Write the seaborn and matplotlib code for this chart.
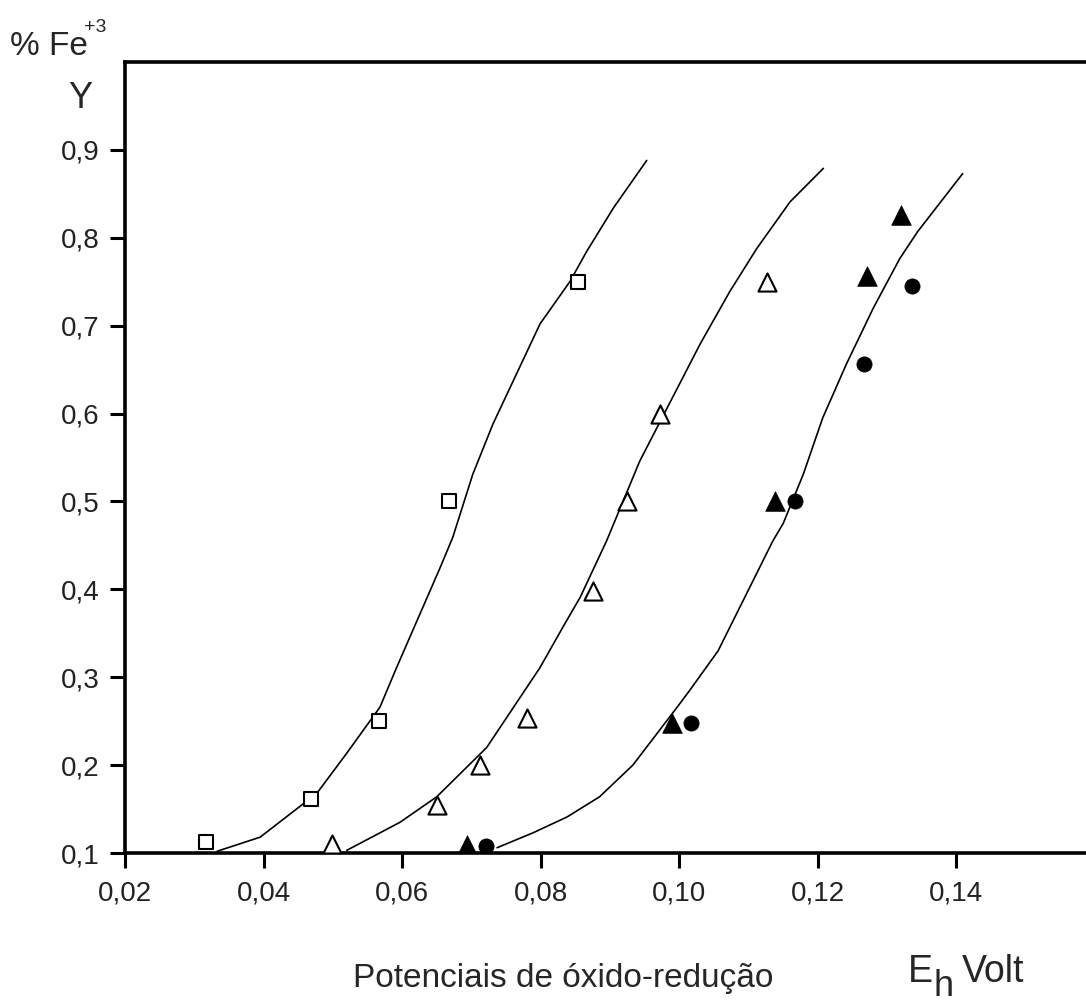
import matplotlib
matplotlib.use("Agg")
import matplotlib.pyplot as plt
import seaborn as sns

# measured points (Eh in volt, fraction Fe+3)
sq_x = [0.0317, 0.0468, 0.0567, 0.0668, 0.0854]
sq_y = [0.112, 0.162, 0.25, 0.50, 0.75]

tri_open_x = [0.0499, 0.0650, 0.0713, 0.0780, 0.0875, 0.0924, 0.0972, 0.1126]
tri_open_y = [0.11, 0.155, 0.20, 0.254, 0.398, 0.50, 0.60, 0.75]

tri_fill_x = [0.0694, 0.0989, 0.1138, 0.1271, 0.1320]
tri_fill_y = [0.109, 0.2475, 0.50, 0.756, 0.826]

circ_x = [0.0721, 0.1017, 0.1167, 0.1266, 0.1336]
circ_y = [0.108, 0.2475, 0.50, 0.656, 0.745]

# fitted curves
curve1_x = [0.0333, 0.0395, 0.0477, 0.0520, 0.0568, 0.0592, 0.0655, 0.0673,
            0.0702, 0.0731, 0.0765, 0.0799, 0.0842, 0.0866, 0.0905, 0.0953]
curve1_y = [0.102, 0.118, 0.168, 0.2135, 0.266, 0.311, 0.425, 0.459,
            0.531, 0.588, 0.645, 0.702, 0.750, 0.784, 0.834, 0.888]

curve2_x = [0.0520, 0.0597, 0.0650, 0.0722, 0.0799, 0.0832, 0.0857, 0.0895,
            0.0943, 0.1030, 0.1073, 0.1112, 0.1160, 0.1208]
curve2_y = [0.103, 0.135, 0.164, 0.220, 0.311, 0.357, 0.391, 0.455,
            0.546, 0.679, 0.739, 0.788, 0.841, 0.879]

curve3_x = [0.0737, 0.0789, 0.0838, 0.0885, 0.0933, 0.0997, 0.1015, 0.1056,
            0.1135, 0.1150, 0.1179, 0.1207, 0.1241, 0.1280, 0.1318, 0.1344,
            0.1409]
curve3_y = [0.106, 0.123, 0.141, 0.164, 0.200, 0.266, 0.285, 0.330,
            0.455, 0.475, 0.531, 0.595, 0.656, 0.720, 0.776, 0.807,
            0.873]

x_ticks = [0.02, 0.04, 0.06, 0.08, 0.10, 0.12, 0.14]
x_tick_labels = ["0,02", "0,04", "0,06", "0,08", "0,10", "0,12", "0,14"]
y_ticks = [0.1, 0.2, 0.3, 0.4, 0.5, 0.6, 0.7, 0.8, 0.9]
y_tick_labels = ["0,1", "0,2", "0,3", "0,4", "0,5", "0,6", "0,7", "0,8", "0,9"]


def main():
    sns.set_style("ticks")
    plt.rcParams["font.family"] = ["Liberation Sans", "DejaVu Sans"]

    W, H = 1086, 1005
    fig = plt.figure(figsize=(W / 100, H / 100), dpi=100)
    ax = fig.add_axes([125 / W, (H - 853) / H, (1095 - 125) / W, (853 - 62) / H])

    for cx, cy in [(curve1_x, curve1_y), (curve2_x, curve2_y), (curve3_x, curve3_y)]:
        sns.lineplot(x=cx, y=cy, sort=False, estimator=None, color="black",
                     linewidth=1.2, ax=ax, zorder=2,
                     solid_joinstyle="round", solid_capstyle="round")

    sns.scatterplot(x=sq_x, y=sq_y, marker="s", s=100, facecolor="white",
                    edgecolor="black", linewidth=1.5, ax=ax, zorder=3)
    sns.scatterplot(x=tri_open_x, y=tri_open_y, marker="^", s=170, facecolor="white",
                    edgecolor="black", linewidth=1.5, ax=ax, zorder=3)
    sns.scatterplot(x=tri_fill_x, y=tri_fill_y, marker="^", s=200, color="black",
                    edgecolor="black", linewidth=0.5, ax=ax, zorder=3)
    sns.scatterplot(x=circ_x, y=circ_y, marker="o", s=120, color="black",
                    edgecolor="black", linewidth=0.5, ax=ax, zorder=3)

    ax.set_xlim(0.02, 0.16)
    ax.set_ylim(0.1, 1.0)
    ax.set_xticks(x_ticks)
    ax.set_xticklabels(x_tick_labels)
    ax.set_yticks(y_ticks)
    ax.set_yticklabels(y_tick_labels)
    ax.tick_params(axis="both", direction="out", length=11, width=2.2,
                   color="black", labelsize=20, labelcolor="#222222")
    ax.tick_params(axis="x", pad=9)
    ax.tick_params(axis="y", pad=7)
    for side in ["left", "bottom", "top"]:
        ax.spines[side].set_linewidth(2.6)
        ax.spines[side].set_color("black")
    ax.spines["right"].set_visible(False)
    ax.set_xlabel("")
    ax.set_ylabel("")

    # axis titles placed like the scanned figure
    def fx(px):
        return px / W

    def fy(py):
        return 1 - py / H

    fig.text(fx(10), fy(55), "% Fe", fontsize=24, ha="left", va="baseline")
    fig.text(fx(84), fy(32), "+3", fontsize=14, ha="left", va="baseline")
    fig.text(fx(80), fy(108), "Y", fontsize=26, ha="center", va="baseline")

    fig.text(fx(563), fy(987), "Potenciais de óxido-redução", fontsize=24,
             ha="center", va="baseline")
    fig.text(fx(908), fy(982), "E", fontsize=27, ha="left", va="baseline")
    fig.text(fx(933), fy(996), "h", fontsize=26, ha="left", va="baseline")
    fig.text(fx(962), fy(982), "Volt", fontsize=27, ha="left", va="baseline")

    fig.savefig("out.png", dpi=100, facecolor="white")
    plt.close(fig)


if __name__ == "__main__":
    main()
